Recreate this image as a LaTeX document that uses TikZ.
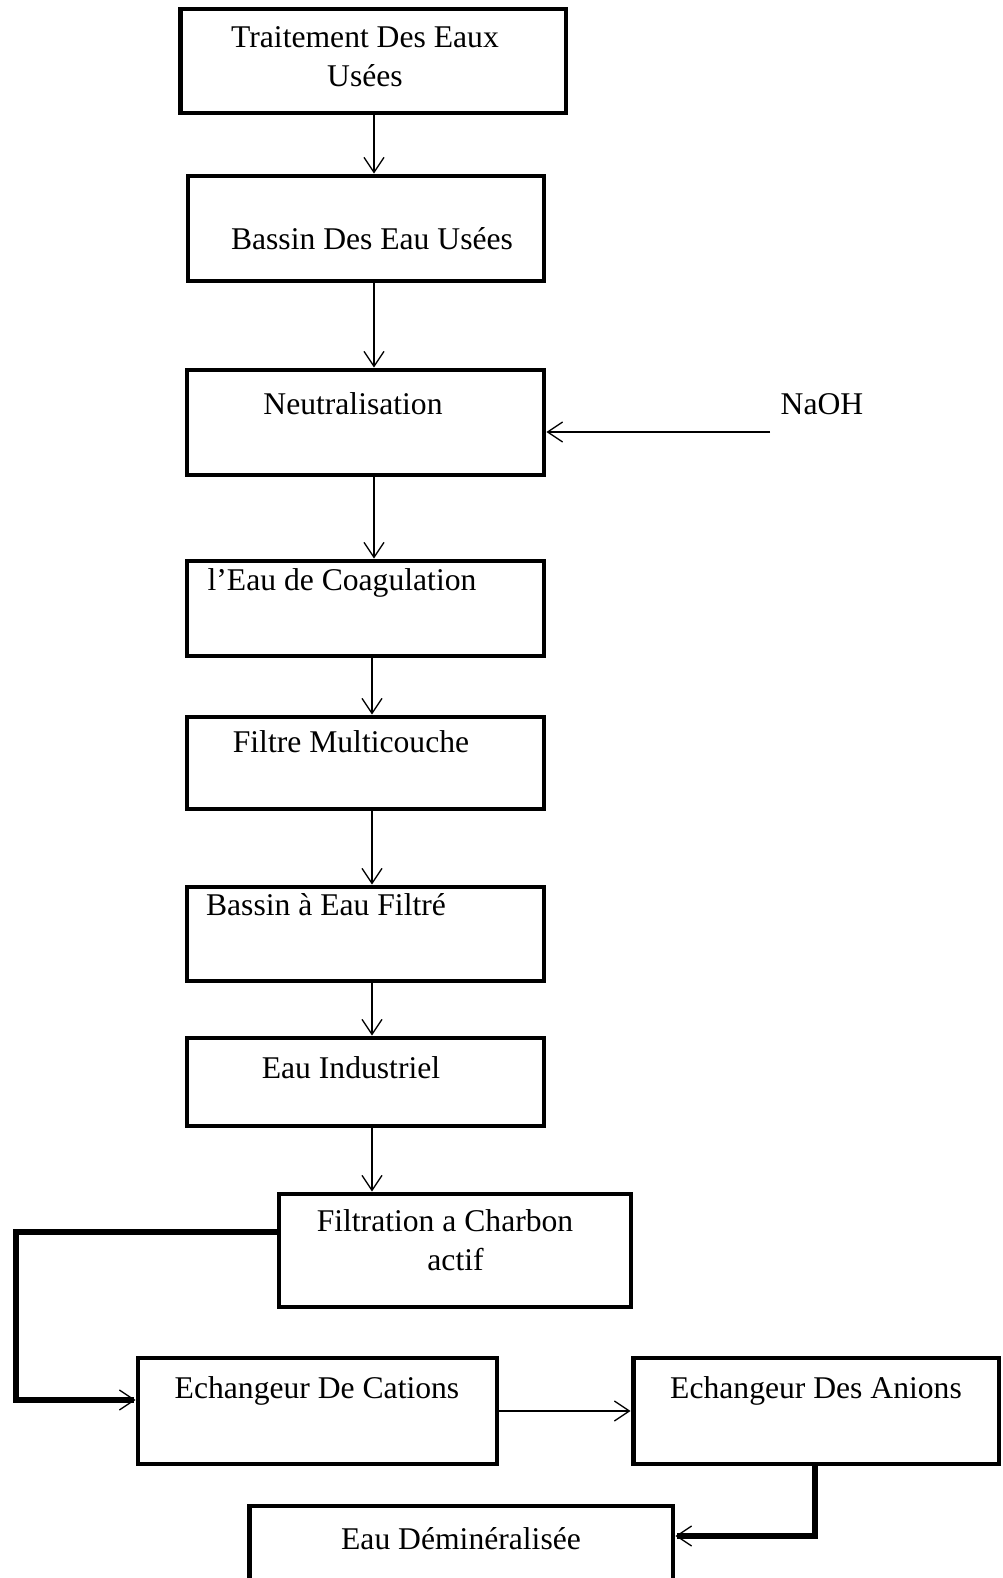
\documentclass[tikz,border=0pt]{standalone}
\usepackage{fontspec}
\setmainfont{Liberation Serif}
\usetikzlibrary{arrows.meta}

\begin{document}
\begin{tikzpicture}[x=0.02cm, y=-0.02cm,
        box/.style = {draw, line width=2.8pt, minimum width=7.14cm},
        txt/.style = {inner sep=0pt, font=\fontsize{18}{22}\selectfont},
        arr/.style = {-{Straight Barb[length=0.3cm, width=0.4cm, line width=0.75pt]}, line width=0.75pt},
        link/.style = {line width=3pt, -{Straight Barb[length=0.3cm, width=0.4cm, line width=0.75pt]}}]
        \useasboundingbox (0,0) rectangle (1002,1578);
        % boxes
        \node[box, minimum width=7.72cm, minimum height=2.08cm] (b1) at (373,61) {};
        \node[box, minimum width=7.12cm, minimum height=2.10cm] (b2) at (366,228.5) {};
        \node[box, minimum height=2.10cm] (b3) at (365.5,422.5) {};
        \node[box, minimum height=1.90cm] (b4) at (365.5,608.5) {};
        \node[box, minimum height=1.84cm] (b5) at (365.5,763) {};
        \node[box, minimum height=1.88cm] (b6) at (365.5,934) {};
        \node[box, minimum height=1.76cm] (b7) at (365.5,1082) {};
        \node[box, minimum width=7.04cm, minimum height=2.26cm] (b8) at (455,1250.5) {};
        \node[box, minimum width=7.18cm, minimum height=2.12cm] (b9) at (317.5,1411) {};
        \node[box, minimum width=7.32cm, minimum height=2.12cm] (b10) at (816,1411) {};
        \node[box, minimum width=8.48cm, minimum height=1.88cm] (b11) at (461,1553) {};
        % texts
        \node[txt, align=center] (t1) at (365,57) {Traitement Des Eaux\\Usées};
        \node[txt, anchor=base] (t2) at (372,250) {Bassin Des Eau Usées};
        \node[txt, anchor=base] (t3) at (353,414) {Neutralisation};
        \node[txt, anchor=base] (t4) at (342,590) {l’Eau de Coagulation};
        \node[txt, anchor=base] (t5) at (351,752) {Filtre Multicouche};
        \node[txt, anchor=base] (t6) at (326,915) {Bassin à Eau Filtré};
        \node[txt, anchor=base] (t7) at (351,1078) {Eau Industriel};
        \node[txt, align=center] (t8) at (445,1240) {Filtration a Charbon\\\hspace*{12pt}actif};
        \node[txt, anchor=base] (t9) at (317,1398) {Echangeur De Cations};
        \node[txt, anchor=base] (t10) at (816,1398) {Echangeur Des Anions};
        \node[txt, anchor=base] (t11) at (461,1549) {Eau Déminéralisée};
        \node[txt, anchor=base] (naoh) at (822,414) {NaOH};
        % helper points
        \coordinate (sp1) at (374,0);
        \coordinate (sp2) at (372,0);
        \coordinate (naohend) at (770,432);
        \coordinate (lk1) at (16,1232);
        \coordinate (lk2) at (16,1400);
        \coordinate (rk) at (815,1536);
        % arrows
        \draw[arr] (b1.south -| sp1) -- (b2.north -| sp1);
        \draw[arr] (b2.south -| sp1) -- (b3.north -| sp1);
        \draw[arr] (b3.south -| sp1) -- (b4.north -| sp1);
        \draw[arr] (b4.south -| sp2) -- (b5.north -| sp2);
        \draw[arr] (b5.south -| sp2) -- (b6.north -| sp2);
        \draw[arr] (b6.south -| sp2) -- (b7.north -| sp2);
        \draw[arr] (b7.south -| sp2) -- (b8.north -| sp2);
        \draw[arr] (naohend) -- (b3.east |- naohend);
        \draw[link] (b8.west |- lk1) -- (lk1) -- (lk2) -- (b9.west |- lk2);
        \draw[arr] (b9.east) -- (b10.west);
        \draw[link] (b10.south -| rk) -- (rk) -- (b11.east |- rk);
    \end{tikzpicture}
\end{document}
